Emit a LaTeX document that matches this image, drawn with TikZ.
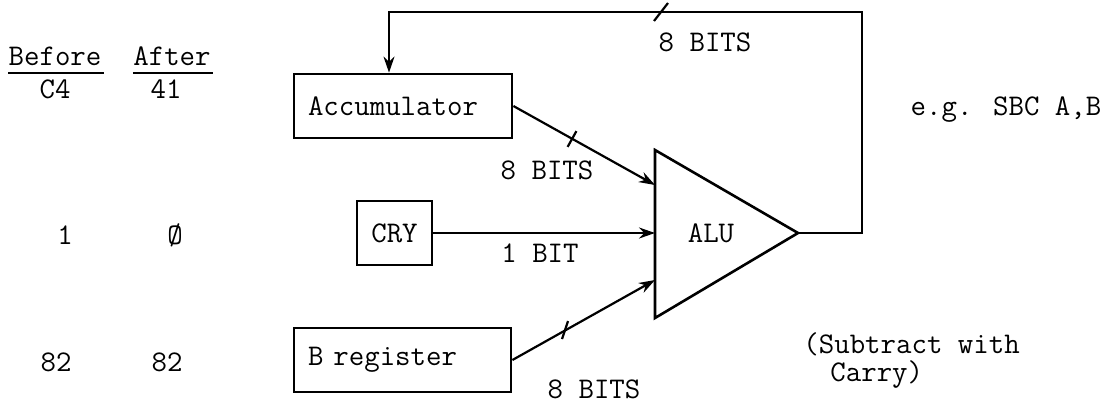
\documentclass[tikz,border=0pt]{standalone}
\usetikzlibrary{arrows.meta,calc}
\begin{document}
\begin{tikzpicture}[x=0.5pt,y=-0.5pt,
  every node/.style={font=\ttfamily\fontsize{15}{13.5}\selectfont, inner sep=0pt},
  blk/.style={draw, line width=1.4pt, minimum height=32pt, inner xsep=7pt, align=left},
  wire/.style={line width=1.1pt},
  arr/.style={wire, -{Stealth[length=8pt,width=5.5pt]}},
  tickmark/.style={line width=1.1pt},
  lbl/.style={anchor=base}]
\useasboundingbox (0,0) rectangle (1106,403);

% left column
\node[lbl] (before) at (55,65) {Before};
\node[lbl] (after) at (172,65) {After};
\draw[wire] ([yshift=-4pt]before.base west) -- ([yshift=-4pt,xshift=1pt]before.base east);
\draw[wire] ([yshift=-4pt]after.base west) -- ([yshift=-4pt,xshift=1pt]after.base east);
\node[lbl] (c4) at (55,98) {C4};
\node[lbl] (v41) at (166,98) {41};
\node[lbl] (one) at (65,244) {1};
\node[lbl] (zero) at (175,244) {Ø};
\node[lbl] (b82) at (56,371) {82};
\node[lbl] (a82) at (167,371) {82};

% blocks
\node[blk, text width=95pt] (acc) at (403,106) {Accumulator};
\node[blk, minimum width=37.5pt, inner xsep=0pt, align=center] (cry) at (394.5,233) {CRY};
\node[blk, text width=94.5pt] (breg) at (402.5,360) {B register};

% ALU triangle
\coordinate (tl) at (655,150);
\coordinate (bl) at (655,318);
\coordinate (ap) at (798,233);
\draw[line width=1.3pt, line join=miter] (tl) -- (ap) -- (bl) -- cycle;
\node (alu) at (711,233) {ALU};
\coordinate (in1) at (655,185);
\coordinate (in2) at (655,233);
\coordinate (in3) at (655,280);

% inputs
\draw[arr] (acc.east) -- (in1);
\draw[arr] (cry.east) -- (in2);
\draw[arr] (breg.east) -- (in3);

% feedback
\coordinate (c1) at (862,233);
\coordinate (c2) at (862,12);
\coordinate (c3) at (389,12);
\draw[arr] (ap) -- (c1) -- (c2) -- (c3) -- (acc.north -| c3);

% bus ticks
\draw[tickmark] (654,21) -- (668,3);
\draw[tickmark] (567.6,146.9) -- (576.4,131.1);
\draw[tickmark] (562,339) -- (568,321);

% labels
\node[lbl] (b8top) at (705,51) {8 BITS};
\node[lbl] (b8mid) at (547,179) {8 BITS};
\node[lbl] (b1) at (540,262) {1 BIT};
\node[lbl] (b8bot) at (594,398) {8 BITS};
\node[lbl] (eg) at (1006,115) {e.g. SBC A,B};
\node[anchor=base west] (sub1) at (803,353) {(Subtract with};
\node[anchor=base west] (sub2) at (830,381) {Carry)};
\end{tikzpicture}
\end{document}
